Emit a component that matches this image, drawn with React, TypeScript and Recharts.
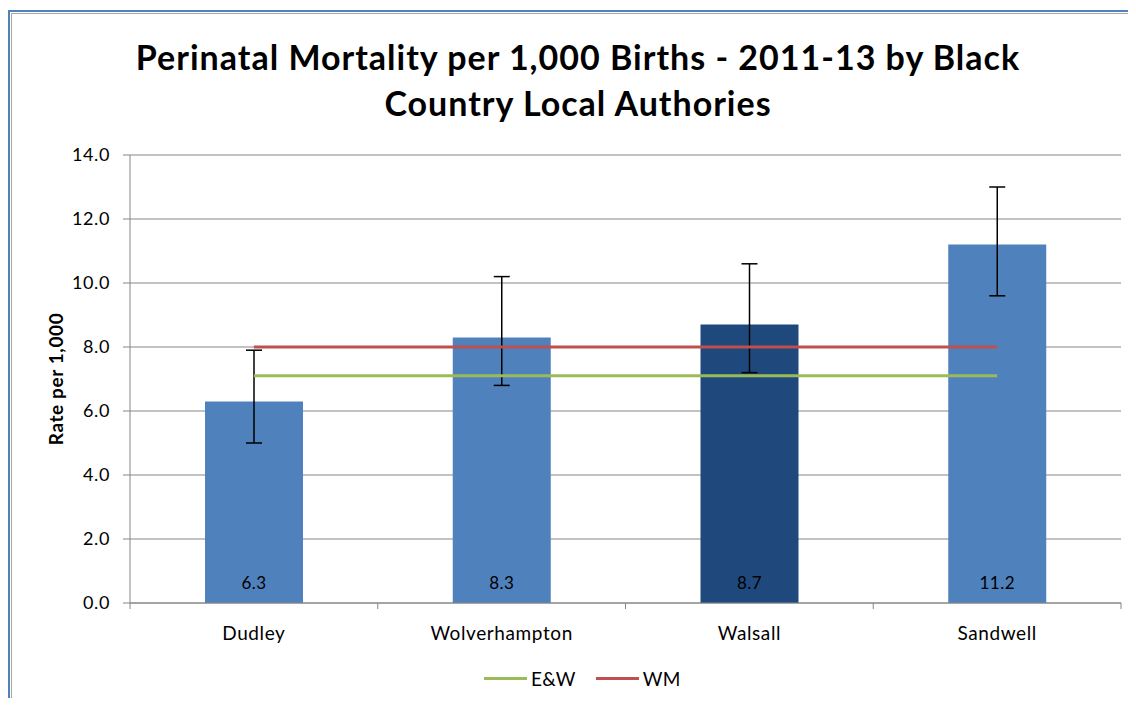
import React from 'react';
import {
  ComposedChart,
  Bar,
  Line,
  XAxis,
  YAxis,
  CartesianGrid,
  ErrorBar,
  LabelList,
  Legend,
  Cell,
  Label,
} from 'recharts';

const categories = ['Dudley', 'Wolverhampton', 'Walsall', 'Sandwell'];
const rates = [6.3, 8.3, 8.7, 11.2];
const ciLower = [5.0, 6.8, 7.2, 9.6];
const ciUpper = [7.9, 10.2, 10.6, 13.0];
const ewRates = [7.1, 7.1, 7.1, 7.1];
const wmRates = [8.0, 8.0, 8.0, 8.0];
const yTicks = [0, 2, 4, 6, 8, 10, 12, 14];
const highlighted = 'Walsall';
const titleLines = ['Perinatal Mortality per 1,000 Births - 2011-13 by Black', 'Country Local Authories'];

const data = categories.map((name, i) => ({
  name,
  rate: rates[i],
  err: [+(rates[i] - ciLower[i]).toFixed(2), +(ciUpper[i] - rates[i]).toFixed(2)],
  ew: ewRates[i],
  wm: wmRates[i],
}));

const FONT = 'Lato, "Open Sans", sans-serif';
const CHART_W = 1128;
const CHART_H = 690;
const MARGIN = { top: 147, right: 15, bottom: 35, left: 0 };
const Y_W = 122;
const X_H = 60;
const PLOT_W = CHART_W - MARGIN.left - MARGIN.right - Y_W;
const HALF_BAND = PLOT_W / categories.length / 2;
const AXIS = '#868686';

const XTick = (props: any) => {
  const { x, y, payload, index } = props;
  return (
    <g>
      <line x1={x + HALF_BAND} y1={y} x2={x + HALF_BAND} y2={y + 6} stroke={AXIS} />
      {index === 0 && <line x1={x - HALF_BAND} y1={y} x2={x - HALF_BAND} y2={y + 6} stroke={AXIS} />}
      <text x={x} y={y + 29} textAnchor="middle" dominantBaseline="central" fontSize={19} letterSpacing={0.6} fill="#000" fontFamily={FONT}>
        {payload.value}
      </text>
    </g>
  );
};

const LegendContent = (props: any) => {
  const items = (props.payload || []).filter((p: any) => p.type !== 'none');
  return (
    <div style={{ display: 'flex', alignItems: 'center', fontFamily: FONT, fontSize: 19, letterSpacing: 0.4, color: '#000' }}>
      {items.map((p: any) => (
        <div key={p.value} style={{ display: 'flex', alignItems: 'center', marginRight: 20 }}>
          <div style={{ width: 43, height: 3, background: p.color, marginRight: 4 }} />
          <span>{p.value}</span>
        </div>
      ))}
    </div>
  );
};

export default function App() {
  return (
    <div style={{ position: 'relative', width: CHART_W, height: CHART_H, overflow: 'hidden', background: '#fff' }}>
      <div style={{ position: 'absolute', left: 0, top: 2, width: 2000, height: 2000, borderLeft: '2px solid #4F81BD', borderTop: '2px solid #4F81BD' }} />
      <div style={{ position: 'absolute', left: 3, top: 5, width: 2000, height: 2000, borderLeft: '1px solid #A6A6A6', borderTop: '1px solid #A6A6A6' }} />
      <div style={{ position: 'absolute', left: 0, top: 26, width: 1140, textAlign: 'center', fontFamily: FONT, fontWeight: 700, fontSize: 34, letterSpacing: 1, lineHeight: '46px', color: '#000' }}>
        {titleLines.map((t) => (
          <div key={t}>{t}</div>
        ))}
      </div>
      <div style={{ position: 'absolute', left: 0, top: 0 }}>
        <ComposedChart width={CHART_W} height={CHART_H} data={data} margin={MARGIN}>
          <CartesianGrid horizontal vertical={false} stroke={AXIS} strokeWidth={1} />
          <XAxis
            dataKey="name"
            height={X_H}
            stroke={AXIS}
            tickLine={false}
            tickSize={0}
            tickMargin={0}
            tick={<XTick />}
            interval={0}
          />
          <YAxis
            width={Y_W}
            domain={[0, 14]}
            ticks={yTicks}
            stroke={AXIS}
            tickSize={7}
            tickMargin={13}
            tick={{ fontSize: 18, fill: '#000', fontFamily: FONT, letterSpacing: 0.6 }}
            tickFormatter={(v: number) => v.toFixed(1)}
          >
            <Label
              content={(p: any) => {
                const vb = p.viewBox || { x: 0, y: 0, height: 0 };
                const cx = vb.x + 47;
                const cy = vb.y + vb.height / 2;
                return (
                  <text x={cx} y={cy} transform={`rotate(-90 ${cx} ${cy})`} textAnchor="middle" dominantBaseline="central" fontSize={19} letterSpacing={0.6} fontWeight={700} fontFamily={FONT} fill="#000">
                    Rate per 1,000
                  </text>
                );
              }}
            />
          </YAxis>
          <Bar dataKey="rate" barSize={98} isAnimationActive={false} legendType="none" fill="#4F81BD">
            {data.map((d) => (
              <Cell key={d.name} fill={d.name === highlighted ? '#1F497D' : '#4F81BD'} />
            ))}
            <LabelList dataKey="rate" position="insideBottom" offset={14} fontSize={17} letterSpacing={0.5} fill="#000" fontFamily={FONT} formatter={(v: any) => Number(v).toFixed(1)} />
            <ErrorBar dataKey="err" width={8} stroke="#000" strokeWidth={1.5} direction="y" />
          </Bar>
          <Line dataKey="ew" name="E&W" stroke="#9BBB59" strokeWidth={3} dot={false} activeDot={false} isAnimationActive={false} />
          <Line dataKey="wm" name="WM" stroke="#C0504D" strokeWidth={3} dot={false} activeDot={false} isAnimationActive={false} />
          <Legend
            layout="horizontal"
            verticalAlign="middle"
            align="center"
            content={<LegendContent />}
            wrapperStyle={{ position: 'absolute', top: 659, left: 476, width: 300, height: 22 }}
          />
        </ComposedChart>
      </div>
    </div>
  );
}
